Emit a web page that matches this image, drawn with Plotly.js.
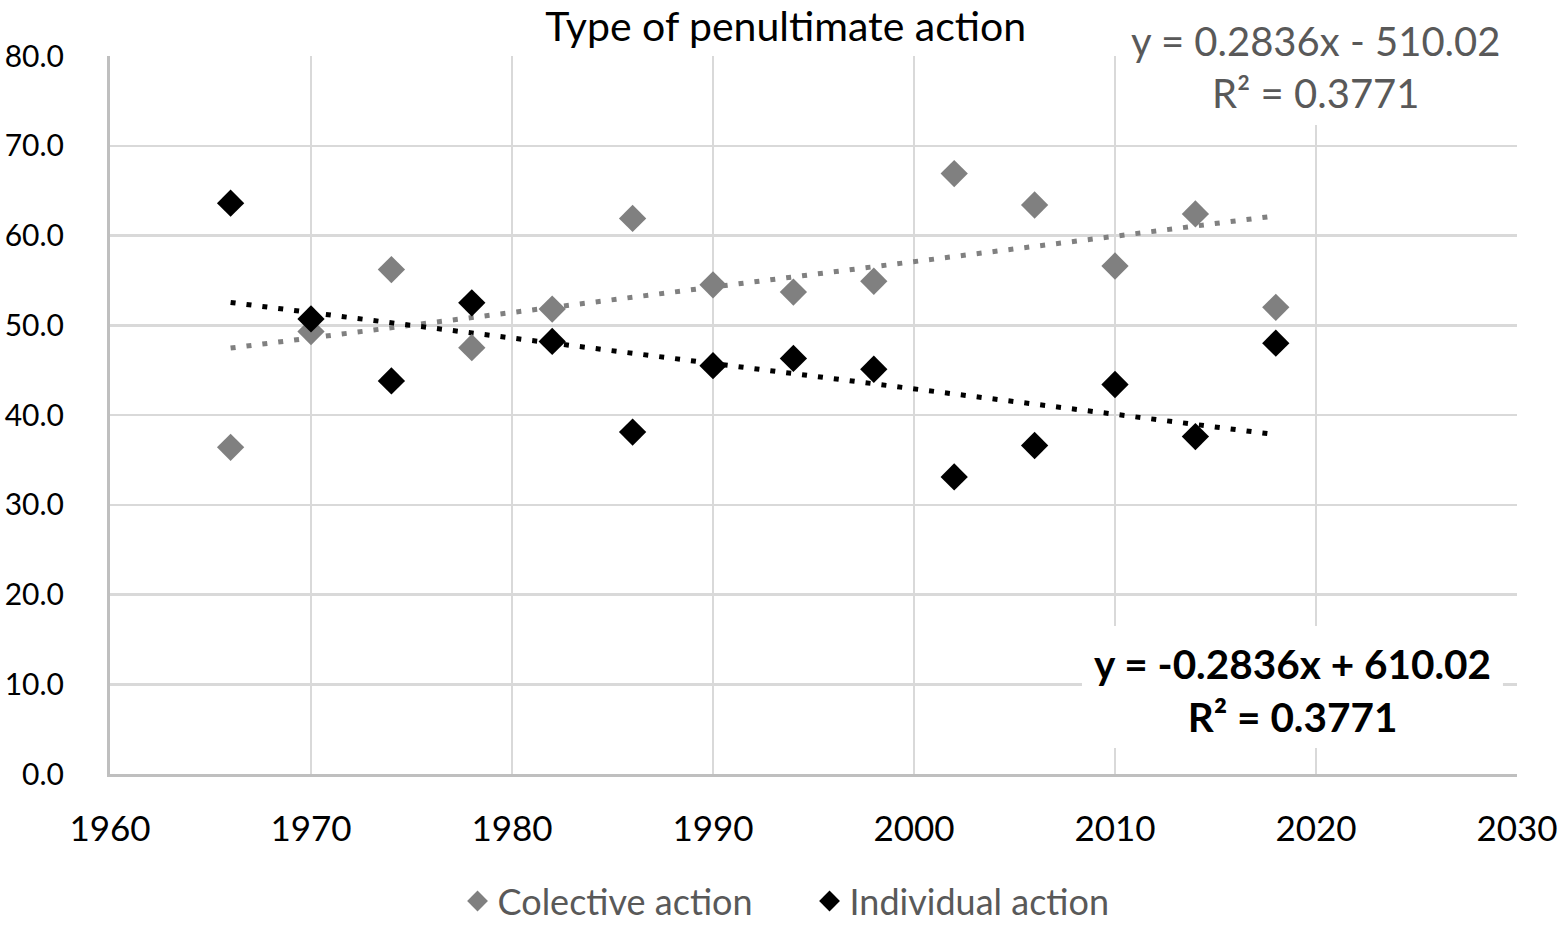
<!DOCTYPE html>
<html>
<head>
<meta charset="utf-8">
<script src="https://cdn.plot.ly/plotly-3.0.1.min.js"></script>
<style>
html,body{margin:0;padding:0;background:#fff;}
#chart{width:1562px;height:925px;}
</style>
</head>
<body>
<div id="chart"></div>
<script>
// ---- data ----
var years = [1966, 1970, 1974, 1978, 1982, 1986, 1990, 1994, 1998, 2002, 2006, 2010, 2014, 2018];
var colective = [36.4, 49.3, 56.2, 47.5, 51.8, 61.9, 54.5, 53.7, 54.9, 66.9, 63.4, 56.6, 62.4, 52.0];
var individual = [63.6, 50.7, 43.8, 52.5, 48.2, 38.1, 45.5, 46.3, 45.1, 33.1, 36.6, 43.4, 37.6, 48.0];
var seriesNames = ["Colective action", "Individual action"];
var eqColective = "y = 0.2836x - 510.02<br>R² = 0.3771";
var eqIndividual = "<b>y = -0.2836x + 610.02<br>R² = 0.3771</b>";
var yTicks = [0, 10, 20, 30, 40, 50, 60, 70, 80];
var xTicks = [1960, 1970, 1980, 1990, 2000, 2010, 2020, 2030];

// least-squares fit computed from the data
function fit(xs, ys) {
  var n = xs.length, sx = 0, sy = 0, sxx = 0, sxy = 0;
  for (var i = 0; i < n; i++) { sx += xs[i]; sy += ys[i]; sxx += xs[i]*xs[i]; sxy += xs[i]*ys[i]; }
  var m = (n*sxy - sx*sy) / (n*sxx - sx*sx);
  var b = (sy - m*sx) / n;
  return xs.map(function (x) { return m*x + b; });
}

var FONT = "Lato, 'Open Sans', sans-serif";
var GRAY = "#808080";

var traces = [
  {x: years, y: fit(years, colective), mode: "lines", showlegend: false, hoverinfo: "skip",
   line: {color: GRAY, width: 5, dash: "5px,11px"}},
  {x: years, y: fit(years, individual), mode: "lines", showlegend: false, hoverinfo: "skip",
   line: {color: "#000000", width: 5, dash: "5px,11px"}},
  {x: years, y: colective, mode: "markers", name: seriesNames[0],
   marker: {symbol: "diamond", size: 21, color: GRAY}},
  {x: years, y: individual, mode: "markers", name: seriesNames[1],
   marker: {symbol: "diamond", size: 21, color: "#000000"}}
];

var layout = {
  width: 1562, height: 925,
  margin: {l: 110, r: 45, t: 56, b: 151, autoexpand: false},
  paper_bgcolor: "#ffffff", plot_bgcolor: "#ffffff",
  font: {family: FONT, color: "#000000", size: 34},
  title: {text: "Type of penultimate action", font: {family: FONT, size: 41, color: "#000"},
          x: 0.503, xanchor: "center", xref: "container", y: 0.971, yref: "container", yanchor: "middle"},
  xaxis: {range: [1960, 2030], tickvals: xTicks, ticktext: xTicks.map(String),
          showgrid: true, gridcolor: "#d9d9d9", gridwidth: 2.5,
          showline: true, linecolor: "#bfbfbf", linewidth: 3, zeroline: false,
          ticks: "", ticklabelstandoff: 22, tickfont: {size: 35, family: FONT}, automargin: false},
  yaxis: {range: [0, 80], tickvals: yTicks, ticktext: yTicks.map(function (v) { return v.toFixed(1); }),
          showgrid: true, gridcolor: "#d9d9d9", gridwidth: 2.5,
          showline: true, linecolor: "#bfbfbf", linewidth: 3, zeroline: false,
          ticks: "", ticklabelstandoff: 37, tickfont: {size: 30, family: FONT}, automargin: false},
  legend: {orientation: "h", x: 0.247, xanchor: "left", y: -0.177, yanchor: "middle",
           font: {size: 36, color: "#595959", family: FONT}, itemwidth: 30,
           entrywidth: 307, entrywidthmode: "pixels"},
  showlegend: true,
  shapes: [
    {type: "rect", xref: "paper", yref: "paper", x0: 0.720, x1: 0.995, y0: 0.904, y1: 1.1,
     fillcolor: "#ffffff", line: {width: 0}, layer: "above"},
    {type: "rect", xref: "paper", yref: "paper", x0: 0.6908, x1: 0.990, y0: 0.0362, y1: 0.2061,
     fillcolor: "#ffffff", line: {width: 0}, layer: "above"}
  ],
  annotations: [
    {xref: "paper", yref: "paper", x: 0.8571, y: 0.985, xanchor: "center", yanchor: "middle",
     text: eqColective, showarrow: false, align: "center",
     font: {size: 40, color: "#595959", family: FONT}},
    {xref: "paper", yref: "paper", x: 0.8404, y: 0.117, xanchor: "center", yanchor: "middle",
     text: eqIndividual, showarrow: false, align: "center",
     font: {size: 40.5, color: "#000000", family: FONT}}
  ]
};

Plotly.newPlot("chart", traces, layout, {displayModeBar: false, staticPlot: true});
</script>
</body>
</html>
